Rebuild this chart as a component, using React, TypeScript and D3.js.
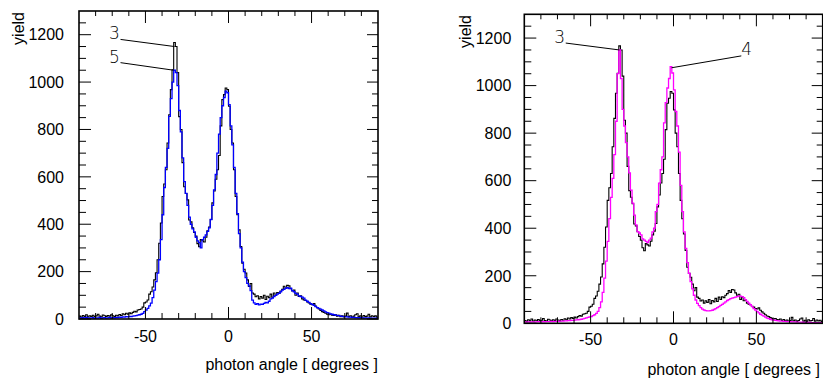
import React from "react";
import * as d3 from "d3";

// Histogram bins: 1 degree wide, from -90 to 90 (180 bins)
const BIN_START = -90;
const BIN_WIDTH = 1;

// Series "3" (black) – shown in both panels
const series3: number[] = [
  12, 8, 15, 10, 18, 9, 14, 11, 16, 10,
  13, 20, 12, 9, 17, 14, 11, 15, 12, 18,
  14, 10, 16, 13, 19, 15, 22, 18, 24, 20,
  26, 22, 28, 33, 30, 38, 40, 42, 50, 68,
  72, 80, 105, 115, 135, 165, 195, 250, 320, 405,
  517, 570, 630, 743, 862, 968, 1052, 1167, 1150, 1040,
  854, 800, 660, 558, 530, 503, 418, 410, 385, 365,
  350, 318, 305, 335, 330, 325, 345, 372, 388, 420,
  490, 540, 590, 630, 690, 815, 926, 947, 975, 968,
  898, 800, 743, 630, 517, 440, 376, 306, 236, 210,
  194, 165, 137, 150, 110, 105, 94, 98, 85, 95,
  88, 100, 82, 96, 90, 105, 92, 110, 100, 112,
  108, 118, 125, 138, 130, 142, 140, 128, 118, 122,
  100, 110, 95, 98, 85, 80, 78, 72, 68, 62,
  60, 65, 55, 48, 42, 36, 31, 28, 24, 20,
  18, 20, 16, 15, 18, 12, 16, 10, 14, 9,
  12, 25, 10, 14, 8, 12, 18, 22, 9, 13,
  8, 15, 10, 12, 20, 9, 14, 10, 13, 8,
];

// Series "5" (blue) – left panel
const series5: number[] = [
  5, 3, 6, 4, 7, 3, 5, 4, 6, 3,
  5, 4, 7, 3, 5, 6, 4, 5, 7, 4,
  6, 5, 7, 6, 8, 7, 9, 8, 10, 9,
  11, 10, 12, 13, 14, 16, 18, 20, 24, 31,
  38, 45, 55, 67, 90, 122, 158, 194, 250, 335,
  440, 555, 640, 720, 855, 930, 1000, 1050, 1040, 985,
  880, 790, 680, 580, 530, 480, 430, 400, 380, 368,
  345, 330, 322, 300, 335, 345, 355, 370, 385, 420,
  480, 545, 610, 700, 780, 850, 900, 935, 962, 955,
  905, 815, 735, 640, 530, 445, 360, 300, 240, 200,
  175, 150, 140, 120, 80, 68, 62, 65, 60, 63,
  62, 66, 70, 68, 75, 85, 88, 95, 100, 105,
  108, 115, 122, 125, 130, 132, 128, 130, 120, 115,
  108, 105, 98, 95, 92, 88, 80, 75, 70, 65,
  62, 58, 52, 48, 45, 42, 38, 34, 30, 27,
  25, 22, 20, 18, 16, 15, 14, 12, 11, 10,
  10, 9, 8, 8, 7, 7, 6, 6, 5, 6,
  5, 4, 5, 4, 5, 3, 4, 3, 4, 3,
];

// Series "4" (magenta) – right panel
const series4: number[] = [
  6, 5, 6, 5, 6, 6, 5, 6, 7, 6,
  6, 7, 6, 7, 7, 7, 8, 7, 8, 8,
  8, 9, 9, 9, 10, 10, 11, 11, 12, 12,
  13, 14, 15, 16, 17, 19, 21, 23, 25, 27,
  28, 32, 36, 42, 50, 66, 90, 130, 190, 262,
  345, 440, 530, 610, 710, 850, 1050, 1150, 1030, 900,
  830, 760, 700, 633, 560, 506, 455, 414, 386, 380,
  372, 355, 350, 345, 340, 350, 358, 385, 400, 470,
  500, 590, 646, 700, 843, 928, 990, 1030, 1080, 1053,
  982, 891, 830, 720, 580, 470, 385, 315, 255, 210,
  175, 145, 118, 98, 84, 74, 66, 60, 56, 53,
  52, 52, 53, 55, 58, 62, 66, 70, 75, 80,
  85, 90, 96, 100, 104, 106, 108, 110, 112, 115,
  114, 112, 108, 100, 92, 85, 78, 70, 62, 56,
  50, 44, 38, 34, 30, 26, 22, 20, 17, 15,
  13, 12, 11, 10, 9, 9, 8, 8, 7, 7,
  7, 6, 6, 6, 5, 5, 5, 5, 4, 4,
  4, 4, 4, 3, 3, 3, 3, 3, 3, 3,
];

const X_DOMAIN: [number, number] = [-90, 90];
const Y_DOMAIN: [number, number] = [0, 1300];
const X_TICK_LABELS = [-50, 0, 50];
const Y_TICK_LABELS = [0, 200, 400, 600, 800, 1000, 1200];
const X_MINOR_STEP = 10;
const Y_MINOR_STEP = 50;
const X_TITLE = "photon angle [ degrees ]";
const Y_TITLE = "yield";

type Ann = { label: string; tx: number; ty: number; fx: number; fy: number; px: number; py: number };
const leftAnnotations: Ann[] = [
  { label: "3", tx: -72, ty: 1180, fx: -65, fy: 1180, px: -32.5, py: 1150 },
  { label: "5", tx: -72, ty: 1082, fx: -65, fy: 1082, px: -33, py: 1050 },
];
const rightAnnotations: Ann[] = [
  { label: "3", tx: -72, ty: 1180, fx: -65, fy: 1179, px: -32.6, py: 1150 },
  { label: "4", tx: 40.9, ty: 1130, fx: 40.9, fy: 1125, px: -1.2, py: 1075 },
];

type Series = { values: number[]; color: string; width: number };
type PanelProps = {
  x0: number; x1: number; y0: number; y1: number;
  series: Series[];
  annotations: Ann[];
  yLabelGap: number;
  xLabelOffset: number;
  titleBaseline: number;
  titleRight: number;
  yTitleX: number;
  yTitleEnd: number;
};

const FONT = "'Liberation Sans', Arial, Helvetica, sans-serif";

function Panel(p: PanelProps) {
  const x = d3.scaleLinear().domain(X_DOMAIN).range([p.x0, p.x1]);
  const y = d3.scaleLinear().domain(Y_DOMAIN).range([p.y1, p.y0]);

  const line = d3
    .line<[number, number]>()
    .x((d) => x(d[0]))
    .y((d) => y(d[1]))
    .curve(d3.curveStepAfter);

  const pathFor = (vals: number[]) => {
    const pts: [number, number][] = vals.map((v, i) => [BIN_START + i * BIN_WIDTH, v]);
    pts.push([BIN_START + vals.length * BIN_WIDTH, vals[vals.length - 1]]);
    return line(pts) || "";
  };

  const xMinor = d3.range(X_DOMAIN[0] + X_MINOR_STEP, X_DOMAIN[1], X_MINOR_STEP).filter((v) => !X_TICK_LABELS.includes(v));
  const yMinor = d3.range(Y_DOMAIN[0] + Y_MINOR_STEP, Y_DOMAIN[1], Y_MINOR_STEP).filter((v) => !Y_TICK_LABELS.includes(v));

  const majL = 12, minL = 6, ymajL = 12, yminL = 7;

  return (
    <g>
      {p.series.map((s, i) => (
        <path key={i} d={pathFor(s.values)} fill="none" stroke={s.color} strokeWidth={s.width} />
      ))}
      <g stroke="#000" strokeWidth={1}>
        {X_TICK_LABELS.map((v) => (
          <g key={"xm" + v}>
            <line x1={x(v)} x2={x(v)} y1={p.y1} y2={p.y1 - majL} />
            <line x1={x(v)} x2={x(v)} y1={p.y0} y2={p.y0 + majL} />
          </g>
        ))}
        {xMinor.map((v) => (
          <g key={"xn" + v}>
            <line x1={x(v)} x2={x(v)} y1={p.y1} y2={p.y1 - minL} />
            <line x1={x(v)} x2={x(v)} y1={p.y0} y2={p.y0 + minL - 1} />
          </g>
        ))}
        {Y_TICK_LABELS.map((v) => (
          <g key={"ym" + v}>
            <line x1={p.x0} x2={p.x0 + ymajL} y1={y(v)} y2={y(v)} />
            <line x1={p.x1} x2={p.x1 - ymajL + 1} y1={y(v)} y2={y(v)} />
          </g>
        ))}
        {yMinor.map((v) => (
          <g key={"yn" + v}>
            <line x1={p.x0} x2={p.x0 + yminL} y1={y(v)} y2={y(v)} />
            <line x1={p.x1} x2={p.x1 - yminL + 1} y1={y(v)} y2={y(v)} />
          </g>
        ))}
      </g>
      <rect x={p.x0} y={p.y0} width={p.x1 - p.x0} height={p.y1 - p.y0} fill="none" stroke="#000" strokeWidth={1.6} />
      <g fontFamily={FONT} fontSize={16} fill="#000">
        {Y_TICK_LABELS.map((v) => (
          <text key={"yl" + v} x={p.x0 - p.yLabelGap} y={y(v)} dy="0.36em" textAnchor="end">
            {v}
          </text>
        ))}
        {X_TICK_LABELS.map((v) => (
          <text key={"xl" + v} x={x(v)} y={p.y1 + p.xLabelOffset} textAnchor="middle">
            {v}
          </text>
        ))}
        <text x={p.titleRight} y={p.titleBaseline} textAnchor="end">
          {X_TITLE}
        </text>
        <text transform={`translate(${p.yTitleX},${p.yTitleEnd}) rotate(-90)`} textAnchor="end">
          {Y_TITLE}
        </text>
      </g>
      {p.annotations.map((a, i) => (
        <g key={"a" + i}>
          <line x1={x(a.fx)} y1={y(a.fy)} x2={x(a.px)} y2={y(a.py)} stroke="#000" strokeWidth={1} />
          <text x={x(a.tx)} y={y(a.ty)} fontFamily="'DejaVu Sans', sans-serif" fontWeight={200} fontSize={17} fill="#000" textAnchor="start">
            {a.label}
          </text>
        </g>
      ))}
    </g>
  );
}

export default function App() {
  return (
    <svg width={823} height={381} style={{ position: "absolute", left: 0, top: 0, background: "#fff" }}>
      <rect width={823} height={381} fill="#fff" />
      <Panel
        x0={79} x1={378} y0={11} y1={319}
        series={[
          { values: series3, color: "#000", width: 1.1 },
          { values: series5, color: "#0000ff", width: 1.3 },
        ]}
        annotations={leftAnnotations}
        yLabelGap={15}
        xLabelOffset={22.5}
        titleBaseline={370}
        titleRight={378}
        yTitleX={24}
        yTitleEnd={12}
      />
      <Panel
        x0={524.3} x1={822.7} y0={14.3} y1={323.3}
        series={[
          { values: series3, color: "#000", width: 1.1 },
          { values: series4, color: "#ff00ff", width: 1.3 },
        ]}
        annotations={rightAnnotations}
        yLabelGap={13}
        xLabelOffset={22}
        titleBaseline={375}
        titleRight={820}
        yTitleX={470.7}
        yTitleEnd={15}
      />
    </svg>
  );
}
